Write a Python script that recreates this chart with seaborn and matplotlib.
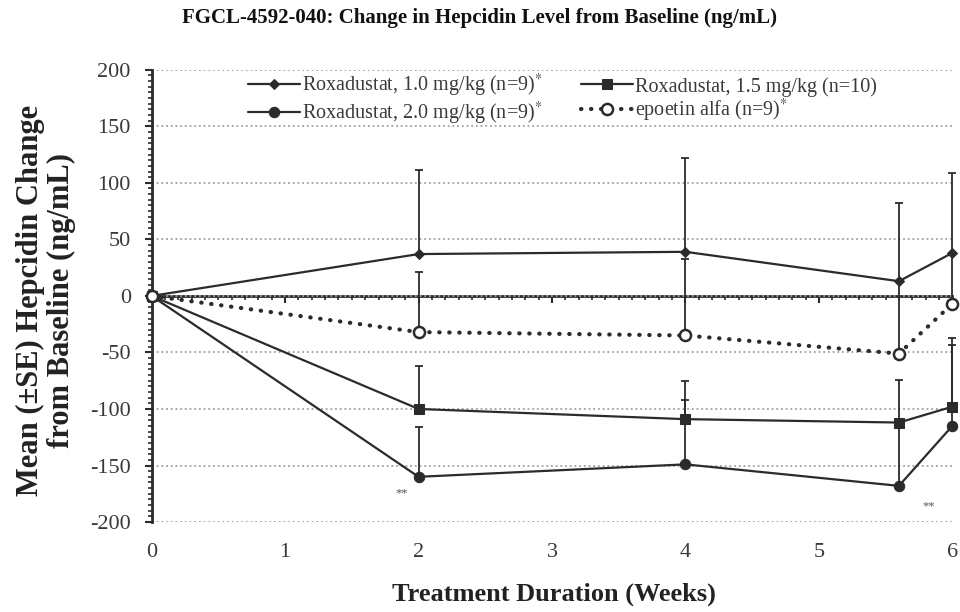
import numpy as np
import pandas as pd
import seaborn as sns
import matplotlib.pyplot as plt
from matplotlib.ticker import MultipleLocator

# values (weeks, mean change, upper SE)
weeks = [0, 2, 4, 5.6, 6]
rox10_mean = [0, 37, 39, 13, 38]
rox10_se = [0, 74, 83, 69, 71]
rox15_mean = [0, -100, -109, -112, -98]
rox15_se = [0, 38, 34, 38, 61]
rox20_mean = [0, -160, -149, -168, -115]
rox20_se = [0, 44, 57, 55, 72]
epo_mean = [0, -32, -35, -51, -7]
epo_se = [0, 53, 68, 63, 45]

labels = ["Roxadustat, 1.0 mg/kg (n=9)$^{*}$",
          "Roxadustat, 1.5 mg/kg (n=10)",
          "Roxadustat, 2.0 mg/kg (n=9)$^{*}$",
          "epoetin alfa (n=9)$^{*}$"]
y_ticks = [-200, -150, -100, -50, 0, 50, 100, 150, 200]
x_ticks = [0, 1, 2, 3, 4, 5, 6]

sns.set_theme(style="white")
plt.rcParams['font.family'] = ['Liberation Serif', 'DejaVu Serif']
plt.rcParams['mathtext.fontset'] = 'stix'
plt.rcParams['axes.unicode_minus'] = False

ink = '#2b2b2b'
fig, ax = plt.subplots(figsize=(9.6, 6.12), dpi=100)
fig.subplots_adjust(left=0.158, right=0.992, top=0.886, bottom=0.147)

series = [
    (labels[0], rox10_mean, rox10_se, dict(marker='D', markersize=5, linestyle='-', linewidth=1.6, mfc=ink)),
    (labels[1], rox15_mean, rox15_se, dict(marker='s', markersize=7, linestyle='-', linewidth=1.6, mfc=ink)),
    (labels[2], rox20_mean, rox20_se, dict(marker='o', markersize=7.5, linestyle='-', linewidth=1.6, mfc=ink)),
    (labels[3], epo_mean, epo_se, dict(marker='o', markersize=8, linestyle=(0, (0.1, 2.3)), linewidth=3.0,
                                       mfc='white', mew=1.8, dash_capstyle='round')),
]

for name, mean, se, style in series:
    df = pd.DataFrame({'week': weeks, 'change': mean})
    ax.errorbar(weeks, mean, yerr=[np.zeros(len(se)), se], fmt='none', ecolor=ink,
                elinewidth=1.3, capsize=3, capthick=1.3, clip_on=False, zorder=2)
    sns.lineplot(data=df, x='week', y='change', ax=ax, color=ink, mec=ink,
                 label=name, clip_on=False, zorder=3, **style)

ax.text(1.87, -175, '**', fontsize=9, color='#555555', ha='center', va='center')
ax.text(5.82, -186, '**', fontsize=9, color='#555555', ha='center', va='center')

ax.set_xlim(0, 6)
ax.set_ylim(-200, 200)
ax.set_xticks(x_ticks)
ax.set_yticks(y_ticks)
ax.yaxis.set_minor_locator(MultipleLocator(5))
ax.grid(axis='y', color='#a0a0a0', linestyle=(0, (1, 1.6)), linewidth=1.3)
ax.grid(axis='x', visible=False)

for s in ['top', 'right', 'bottom']:
    ax.spines[s].set_visible(False)
ax.spines['left'].set_color(ink)
ax.spines['left'].set_linewidth(2)
ax.tick_params(axis='y', which='major', direction='out', length=5, width=1.5, color=ink,
               labelsize=16, labelcolor='#3a3a3a', pad=10, left=True)
ax.tick_params(axis='y', which='minor', direction='out', length=3, width=1.2, color=ink, left=True)
ax.tick_params(axis='x', which='major', length=0, labelsize=16, labelcolor='#3a3a3a', pad=15)

# zero line with week ticks
zero = ax.secondary_xaxis(0.5)
zero.spines['top'].set_linewidth(2)
zero.spines['top'].set_color(ink)
zero.set_xticks(x_ticks)
zero.xaxis.set_minor_locator(MultipleLocator(0.1))
zero.tick_params(axis='x', which='major', direction='in', length=5, width=1.5, color=ink, labeltop=False)
zero.tick_params(axis='x', which='minor', direction='in', length=3, width=1.2, color=ink)

ax.set_xlabel("Treatment Duration (Weeks)", fontsize=19, fontweight='bold', color='#222222')
ax.xaxis.set_label_coords(0.5025, -0.134)
ax.set_ylabel("Mean (±SE) Hepcidin Change\nfrom Baseline (ng/mL)", fontsize=22, fontweight='bold',
              color='#222222', linespacing=1.12)
ax.yaxis.set_label_coords(-0.094, 0.49)

fig.suptitle("FGCL-4592-040: Change in Hepcidin Level from Baseline (ng/mL)", x=0.5, y=0.971,
             va='center', fontsize=15, fontweight='bold', color='#111111')

h, l = ax.get_legend_handles_labels()
order = [0, 2, 1, 3]
leg = ax.legend([h[i] for i in order], [l[i] for i in order], ncol=2, loc='upper left',
                bbox_to_anchor=(0.1, 1.03), frameon=False, fontsize=14.5, handlelength=2.6,
                columnspacing=1.9, labelspacing=0.0, handletextpad=0.1, borderpad=0.3)
for t in leg.get_texts():
    t.set_color('#3a3a3a')

fig.savefig('out.png', dpi=100)
